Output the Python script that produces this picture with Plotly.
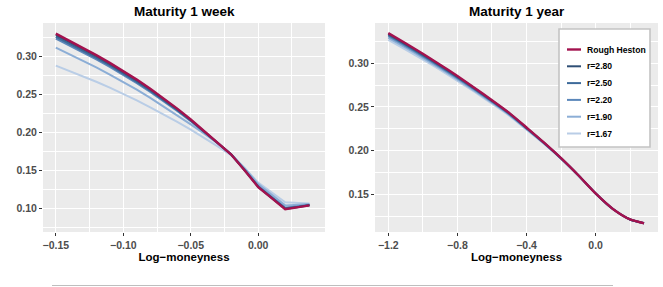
import plotly.graph_objects as go

# ---------------- data ----------------
series_names = ["r=1.67", "r=1.90", "r=2.20", "r=2.50", "r=2.80", "Rough Heston"]
series_colors = ["#B9CDE6", "#8CAED6", "#5B87BA", "#3D6A9A", "#2F4F75", "#A3124E"]
series_widths = [2.0, 2.0, 2.0, 2.0, 2.0, 2.4]
legend_order = ["Rough Heston", "r=2.80", "r=2.50", "r=2.20", "r=1.90", "r=1.67"]

# Maturity 1 week
x_week = [-0.15, -0.14, -0.13, -0.12, -0.11, -0.10, -0.09, -0.08, -0.07, -0.06,
          -0.05, -0.04, -0.03, -0.02, -0.01, 0.00, 0.01, 0.02, 0.03, 0.038]
week_r167 = [0.2880, 0.2812, 0.2741, 0.2667, 0.2589, 0.2507, 0.2421, 0.2331, 0.2237, 0.2139,
             0.2037, 0.1930, 0.1817, 0.1697, 0.1530, 0.1340, 0.1210, 0.1080, 0.1072, 0.1066]
week_r190 = [0.3115, 0.3030, 0.2943, 0.2855, 0.2762, 0.2665, 0.2563, 0.2455, 0.2342, 0.2225,
             0.2105, 0.1985, 0.1855, 0.1712, 0.1525, 0.1320, 0.1180, 0.1040, 0.1050, 0.1058]
week_r220 = [0.3235, 0.3146, 0.3054, 0.2960, 0.2861, 0.2758, 0.2649, 0.2533, 0.2411, 0.2282,
             0.2147, 0.2006, 0.1861, 0.1711, 0.1509, 0.1294, 0.1151, 0.1008, 0.1029, 0.1046]
week_r250 = [0.3259, 0.3169, 0.3076, 0.2981, 0.2881, 0.2777, 0.2666, 0.2549, 0.2425, 0.2294,
             0.2156, 0.2011, 0.1863, 0.1710, 0.1506, 0.1289, 0.1145, 0.1001, 0.1024, 0.1044]
week_r280 = [0.3285, 0.3194, 0.3100, 0.3004, 0.2903, 0.2797, 0.2684, 0.2565, 0.2440, 0.2306,
             0.2165, 0.2015, 0.1864, 0.1710, 0.1502, 0.1283, 0.1139, 0.0994, 0.1020, 0.1041]
week_rough = [0.3300, 0.3208, 0.3114, 0.3017, 0.2915, 0.2808, 0.2695, 0.2575, 0.2448, 0.2313,
              0.2170, 0.2018, 0.1865, 0.1710, 0.1500, 0.1280, 0.1135, 0.0990, 0.1017, 0.1040]

# Maturity 1 year
x_year = [-1.2, -1.1, -1.0, -0.9, -0.8, -0.7, -0.6, -0.5, -0.4, -0.3, -0.2, -0.1, 0.0, 0.1, 0.2, 0.28]
year_r167 = [0.3265, 0.3155, 0.3041, 0.2922, 0.2798, 0.2670, 0.2537, 0.2399, 0.2240, 0.2079,
             0.1907, 0.1717, 0.1512, 0.1335, 0.1215, 0.1172]
year_r190 = [0.3288, 0.3177, 0.3061, 0.2940, 0.2814, 0.2684, 0.2549, 0.2409, 0.2247, 0.2084,
             0.1909, 0.1718, 0.1512, 0.1335, 0.1215, 0.1172]
year_r220 = [0.3307, 0.3195, 0.3077, 0.2955, 0.2828, 0.2696, 0.2559, 0.2417, 0.2254, 0.2088,
             0.1911, 0.1719, 0.1512, 0.1335, 0.1215, 0.1172]
year_r250 = [0.3321, 0.3208, 0.3089, 0.2966, 0.2837, 0.2704, 0.2566, 0.2423, 0.2258, 0.2091,
             0.1913, 0.1719, 0.1512, 0.1335, 0.1215, 0.1172]
year_r280 = [0.3333, 0.3218, 0.3099, 0.2975, 0.2846, 0.2711, 0.2572, 0.2428, 0.2262, 0.2093,
             0.1914, 0.1720, 0.1512, 0.1335, 0.1215, 0.1172]
year_rough = [0.3342, 0.3227, 0.3107, 0.2982, 0.2852, 0.2717, 0.2577, 0.2432, 0.2265, 0.2095,
              0.1915, 0.1720, 0.1512, 0.1335, 0.1215, 0.1172]

week_series = [week_r167, week_r190, week_r220, week_r250, week_r280, week_rough]
year_series = [year_r167, year_r190, year_r220, year_r250, year_r280, year_rough]

titles = ["Maturity 1 week", "Maturity 1 year"]
x_title = "Log\u2212moneyness"

# ---------------- figure ----------------
W, H = 663, 287
FONT = "Liberation Sans, Arial, sans-serif"
fig = go.Figure()

for name, col, lw, ys in zip(series_names, series_colors, series_widths, week_series):
    fig.add_trace(go.Scatter(x=x_week, y=ys, mode="lines", name=name,
                             line=dict(color=col, width=lw), showlegend=False,
                             xaxis="x", yaxis="y"))
for name, col, lw, ys in zip(series_names, series_colors, series_widths, year_series):
    fig.add_trace(go.Scatter(x=x_year, y=ys, mode="lines", name=name,
                             line=dict(color=col, width=lw, shape="spline", smoothing=0.6),
                             showlegend=False, xaxis="x2", yaxis="y2"))

dom_l = [43 / W, 325 / W]
dom_r = [375 / W, 658 / W]
dom_y = [1 - 232 / H, 1 - 23 / H]

tickfont = dict(family=FONT, size=10.5, color="#4D4D4D", weight="bold")
axtitle = dict(family=FONT, size=11.5, color="#000000", weight="bold")
common = dict(showgrid=True, gridcolor="#FFFFFF", gridwidth=1.1, zeroline=False,
              ticks="outside", ticklen=3, tickwidth=1, tickcolor="#333333",
              tickfont=tickfont, showline=False, fixedrange=True)
minor_grid = dict(showgrid=True, gridcolor="#FFFFFF", gridwidth=0.5, ticks="")

fig.update_layout(
    width=W, height=H,
    margin=dict(l=0, r=0, t=0, b=0),
    paper_bgcolor="#FFFFFF", plot_bgcolor="#EBEBEB",
    font=dict(family=FONT),
    showlegend=False,
    xaxis=dict(domain=dom_l, range=[-0.1595, 0.0495], tick0=0, dtick=0.05, tickformat=".2f",
               minor=dict(dtick=0.025, **minor_grid), anchor="y",
               title=dict(text=x_title, font=axtitle, standoff=1), **common),
    yaxis=dict(domain=dom_y, range=[0.069, 0.344], tick0=0, dtick=0.05, tickformat=".2f",
               minor=dict(dtick=0.025, **minor_grid), anchor="x", **common),
    xaxis2=dict(domain=dom_r, range=[-1.277, 0.361], tick0=0, dtick=0.4, tickformat=".1f",
                minor=dict(dtick=0.2, **minor_grid), anchor="y2",
                title=dict(text=x_title, font=axtitle, standoff=1), **common),
    yaxis2=dict(domain=dom_y, range=[0.1072, 0.3458], tick0=0, dtick=0.05, tickformat=".2f",
                minor=dict(dtick=0.025, **minor_grid), anchor="x2", **common),
)

for t, dom in zip(titles, [dom_l, dom_r]):
    fig.add_annotation(text=t, x=(dom[0] + dom[1]) / 2, y=1 - 11 / H, xref="paper", yref="paper",
                       xanchor="center", yanchor="middle", showarrow=False,
                       font=dict(family=FONT, size=13.5, color="#000000", weight="bold"))

# legend box (drawn manually to match the ggplot key)
LX0, LX1, LY0, LY1 = 559, 650, 29, 147
fig.add_shape(type="rect", xref="paper", yref="paper",
              x0=LX0 / W, x1=LX1 / W, y0=1 - LY1 / H, y1=1 - LY0 / H,
              fillcolor="#FFFFFF", line=dict(color="#C4C4C4", width=1.6), layer="above")
color_of = dict(zip(series_names, series_colors))
width_of = dict(zip(series_names, series_widths))
for i, name in enumerate(legend_order):
    yy = 1 - (49.5 + i * 16.8) / H
    fig.add_shape(type="line", xref="paper", yref="paper", x0=567 / W, x1=581 / W, y0=yy, y1=yy,
                  line=dict(color=color_of[name], width=width_of[name]), layer="above")
    fig.add_annotation(text=name, x=584.5 / W, y=yy, xref="paper", yref="paper",
                       xanchor="left", yanchor="middle", showarrow=False,
                       font=dict(family=FONT, size=8.6, color="#000000", weight="bold"))

fig.add_shape(type="line", xref="paper", yref="paper", x0=52 / W, x1=613 / W,
              y0=1 - 285.5 / H, y1=1 - 285.5 / H, line=dict(color="#BEBEBE", width=1))

fig.write_html("out.html")
